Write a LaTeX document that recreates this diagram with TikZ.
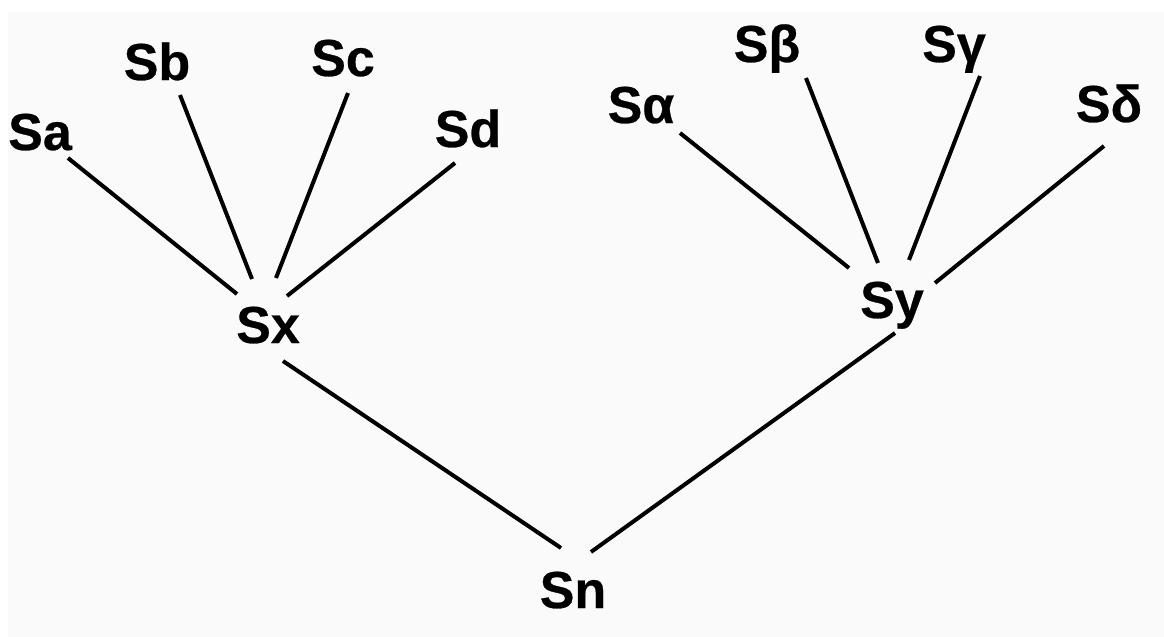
\documentclass[tikz,border=0pt]{standalone}
\usepackage{fontspec}
\setmainfont{Liberation Sans}
\newfontfamily\heavyfont[FakeBold=0.5]{Liberation Sans Bold}
\definecolor{bggray}{RGB}{250,250,250}
\tikzset{
  lbl/.style={anchor=base, inner sep=0pt, font=\fontsize{26}{30}\selectfont\heavyfont, text=black},
  edge/.style={draw=black, line width=2pt}
}
\begin{document}
\begin{tikzpicture}[x=0.5pt,y=-0.5pt]
\useasboundingbox (0,0) rectangle (1164,637);
\fill[white] (0,0) rectangle (1164,637);
\fill[bggray] (8,12) rectangle (1164,637);
% nodes
\node[lbl] (Sa) at (40,150) {Sa};
\node[lbl] (Sb) at (157,80) {Sb};
\node[lbl] (Sc) at (343,76) {Sc};
\node[lbl] (Sd) at (468,147) {Sd};
\node[lbl] (Sx) at (268,343) {Sx};
\node[lbl] (Salpha) at (641,123) {Sα};
\node[lbl] (Sbeta) at (767,62) {Sβ};
\node[lbl] (Sgamma) at (954,62) {Sγ};
\node[lbl] (Sdelta) at (1109,122) {Sδ};
\node[lbl] (Sy) at (892,318) {Sy};
\node[lbl] (Sn) at (573,608) {Sn};
% connectors
\draw[edge] ([shift={(28,8)}]Sa.base) -- ([shift={(-31,-49)}]Sx.base);
\draw[edge] ([shift={(23,15)}]Sb.base) -- ([shift={(-16,-64)}]Sx.base);
\draw[edge] ([shift={(5,17)}]Sc.base) -- ([shift={(8,-65)}]Sx.base);
\draw[edge] ([shift={(-13,16)}]Sd.base) -- ([shift={(19,-47)}]Sx.base);
\draw[edge] ([shift={(15,18)}]Sx.base) -- ([shift={(-12,-60)}]Sn.base);
\draw[edge] ([shift={(18,-56)}]Sn.base) -- ([shift={(3,15)}]Sy.base);
\draw[edge] ([shift={(39,10)}]Salpha.base) -- ([shift={(-43,-50)}]Sy.base);
\draw[edge] ([shift={(39,16)}]Sbeta.base) -- ([shift={(-14,-55)}]Sy.base);
\draw[edge] ([shift={(26,14)}]Sgamma.base) -- ([shift={(17,-58)}]Sy.base);
\draw[edge] ([shift={(-5,24)}]Sdelta.base) -- ([shift={(43,-35)}]Sy.base);
\end{tikzpicture}
\end{document}
